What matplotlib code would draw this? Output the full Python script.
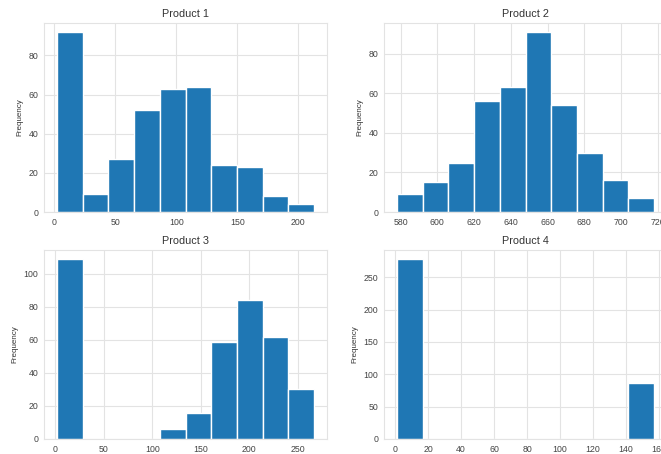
import matplotlib
matplotlib.use("Agg")
import matplotlib.pyplot as plt
import numpy as np

titles = ["Product 1", "Product 2", "Product 3", "Product 4"]

p1_range = (2.0, 213.0)
p1_counts = [92, 9, 27, 52, 63, 64, 24, 23, 8, 4]

p2_range = (578.0, 718.0)
p2_counts = [9, 15, 25, 56, 63, 91, 54, 30, 16, 7]

p3_range = (1.7, 267.0)
p3_counts = [109, 0, 0, 0, 6, 16, 59, 84, 62, 30]

p4_range = (1.0, 157.0)
p4_counts = [278, 0, 0, 0, 0, 0, 0, 0, 0, 86]

ranges = [p1_range, p2_range, p3_range, p4_range]
counts = [p1_counts, p2_counts, p3_counts, p4_counts]

plt.rcParams['font.family'] = ['Liberation Sans', 'DejaVu Sans']

W, H = 661, 454
fig = plt.figure(figsize=(W / 100, H / 100), dpi=100)

# axes boxes in pixels: (left, top, right, bottom)
boxes = [(44, 23, 327, 212), (384, 23, 667, 212),
         (44, 250, 327, 439), (384, 250, 667, 439)]

for box, title, rng, cnt in zip(boxes, titles, ranges, counts):
    l, t, r, b = box
    ax = fig.add_axes([l / W, 1 - b / H, (r - l) / W, (b - t) / H])
    ax.set_facecolor('white')
    edges = np.linspace(rng[0], rng[1], len(cnt) + 1)
    centers = (edges[:-1] + edges[1:]) / 2
    ax.hist(centers, bins=edges, weights=cnt, color='#1f77b4',
            edgecolor='white', linewidth=1.0, zorder=2)
    ax.grid(True, color='#e3e3e3', linewidth=0.8, zorder=0)
    ax.set_axisbelow(True)
    for s in ax.spines.values():
        s.set_color('#e3e3e3')
        s.set_linewidth(0.8)
    ax.tick_params(axis='both', length=0, labelsize=6.3, colors='#444444', pad=4)
    ax.set_title(title, fontsize=7.8, color='#333333', pad=4)
    ax.set_ylabel('Frequency', fontsize=5.8, color='#333333', labelpad=4)

fig.savefig('out.png', dpi=100, facecolor='white')
